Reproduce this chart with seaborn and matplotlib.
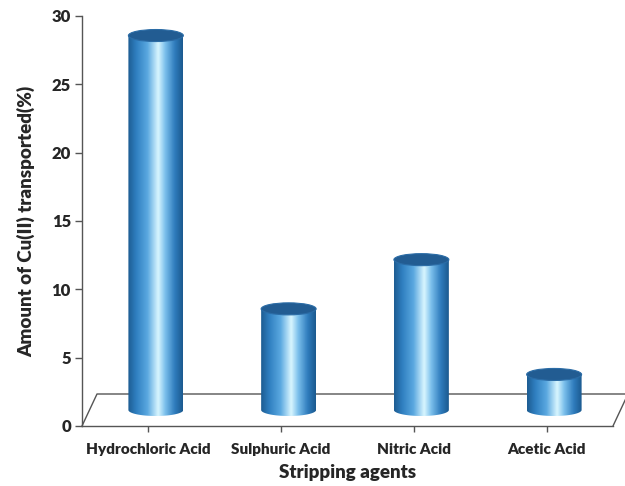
import numpy as np
import pandas as pd
import matplotlib
matplotlib.use("Agg")
import matplotlib.pyplot as plt
from matplotlib.patches import Ellipse, Polygon
from matplotlib.colors import LinearSegmentedColormap
import seaborn as sns

# Stripping agent results
agents = ["Hydrochloric Acid", "Sulphuric Acid", "Nitric Acid", "Acetic Acid"]
transported = [27.4, 7.4, 11.0, 2.6]
yticks = [0, 5, 10, 15, 20, 25, 30]

df = pd.DataFrame({"agent": agents, "value": transported})

sns.set_theme(style="white")
plt.rcParams["font.family"] = ["Lato", "DejaVu Sans"]

fig = plt.figure(figsize=(6.25, 4.86), dpi=100)
ax = fig.add_axes([0.1312, 0.1235, 0.8496, 0.8436])

sns.barplot(data=df, x="agent", y="value", ax=ax, width=0.414,
            color="#2d78b8", errorbar=None)

# pseudo-3D geometry (depth of the floor in data units)
dx, dy = 0.113, 2.34
eh = 0.88  # ellipse height of the cylinder caps

body_cmap = LinearSegmentedColormap.from_list(
    "cyl", ["#1d5c92", "#2f7fc0", "#5aa8e0", "#d9f6ff", "#7cc0ec", "#2f7cbd", "#1b5a8f"])
grad = np.linspace(0, 1, 256)
grad = np.interp(grad, [0, 0.15, 0.35, 0.55, 0.68, 0.85, 1.0],
                 [0, 0.17, 0.33, 0.5, 0.67, 0.83, 1.0])[None, :]

ax.set_xlim(-0.5, 3.5)
ax.set_ylim(0, 30)

for p in ax.patches:
    x0, w, h = p.get_x(), p.get_width(), p.get_height()
    p.set_visible(False)
    cx = x0 + w / 2 + dx / 2
    base = dy / 2
    top = base + h
    t = np.linspace(np.pi, 2 * np.pi, 60)
    bottom_arc = np.column_stack([cx + w / 2 * np.cos(t), base + eh / 2 * np.sin(t)])
    outline = np.vstack([bottom_arc, [[cx + w / 2, top], [cx - w / 2, top]]])
    clip = Polygon(outline, closed=True, transform=ax.transData, facecolor="none",
                   edgecolor="none")
    ax.add_patch(clip)
    im = ax.imshow(grad, cmap=body_cmap, aspect="auto",
                   extent=[cx - w / 2, cx + w / 2, base - eh, top],
                   zorder=3, interpolation="bicubic")
    im.set_clip_path(clip)
    cap = Ellipse((cx, top), w, eh, facecolor="#225c92", edgecolor="#2b6ca6",
                  linewidth=0.8, zorder=4)
    ax.add_patch(cap)

ax.set_xlim(-0.5, 3.5)
ax.set_ylim(0, 30)

# floor outline
lc = "#555555"
ax.plot([-0.5, -0.5 + dx, 3.5 + dx], [0, dy, dy], color=lc, lw=1.0,
        clip_on=False, zorder=1)
ax.plot([3.5, 3.5 + dx], [0, dy], color=lc, lw=1.0, clip_on=False, zorder=1)

sns.despine(ax=ax, top=True, right=True)
for s in ("left", "bottom"):
    ax.spines[s].set_color(lc)
    ax.spines[s].set_linewidth(1.0)

ax.set_yticks(yticks)
ax.set_yticklabels([str(v) for v in yticks], fontsize=12, fontweight="heavy")
ax.tick_params(axis="y", direction="out", length=5, width=1, color=lc, pad=3,
               left=True)
ax.tick_params(axis="x", direction="out", length=4, width=1, color=lc, pad=8,
               bottom=True)
for lab in ax.get_xticklabels():
    lab.set_fontsize(11)
    lab.set_fontweight("heavy")

ax.set_xlabel("Stripping agents", fontsize=13.5, fontweight="heavy", labelpad=6)
ax.set_ylabel("Amount of Cu(II) transported(%)", fontsize=13.5, fontweight="heavy",
              labelpad=12)

fig.savefig("out.png", dpi=100, facecolor="white")
